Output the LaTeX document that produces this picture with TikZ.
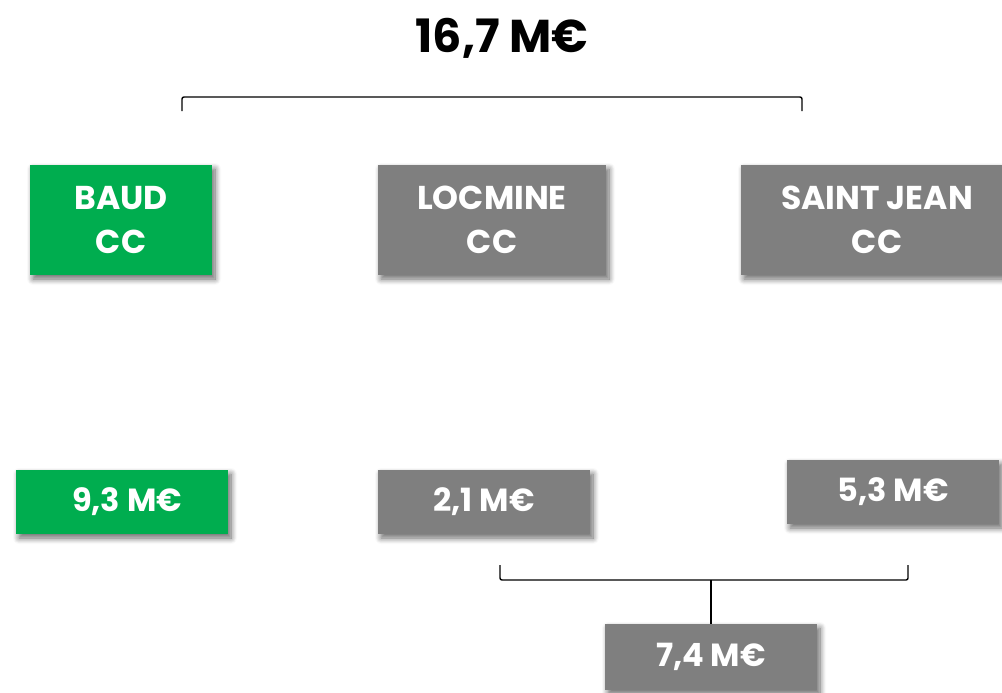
\documentclass[tikz,border=0pt]{standalone}
\usepackage{fontspec}
\setmainfont{Poppins}
\usepackage{xcolor}
\usetikzlibrary{positioning, shadows.blur}

\definecolor{ccgreen}{HTML}{00AD4F}
\definecolor{ccgray}{HTML}{7F7F7F}

\begin{document}
\begin{tikzpicture}[x=1pt, y=-1pt,
    box/.style={fill=#1, text=white, align=center, inner sep=0pt,
        blur shadow={shadow xshift=3pt, shadow yshift=-4pt, shadow blur radius=6pt, shadow blur steps=8, shadow opacity=60}},
    cc/.style={box=#1, minimum height=110pt, font=\bfseries\fontsize{33}{44}\selectfont},
    sum/.style={box=#1, minimum width=212pt, minimum height=64pt, font=\bfseries\fontsize{32}{38}\selectfont},
    brace/.style={line width=1.4pt, rounded corners=2pt}]
    \useasboundingbox (0,0) rectangle (1002,693);
    \clip (0,0) rectangle (1002,693);

    \node[font=\bfseries\fontsize{46}{54}\selectfont] (total) at (502,38) {16,7 M€};

    \node[cc=ccgreen, minimum width=182pt] (baud) at (121,220) {BAUD\\CC};
    \node[cc=ccgray, minimum width=228pt] (locmine) at (492,220) {LOCMINE\\CC};
    \node[cc=ccgray, minimum width=272pt] (stjean) at (877,220) {SAINT JEAN\\CC};

    \node[sum=ccgreen] (vbaud) at (122,502) {\hspace{10pt}9,3 M€};
    \node[sum=ccgray] (vlocmine) at (484,502) {2,1 M€};
    \node[sum=ccgray] (vstjean) at (893,492) {5,3 M€};
    \node[sum=ccgray, minimum height=66pt] (vgroup) at (711,657) {7,4 M€};

    % brackets
    \coordinate (tl) at (182,111);
    \coordinate (tr) at (802,111);
    \draw[brace] (tl) -- (182,97) -- (802,97) -- (tr);
    \coordinate (bl) at (500,565);
    \coordinate (br) at (908,565);
    \coordinate (bm) at (711,580);
    \draw[brace] (bl) -- (500,580) -- (908,580) -- (br);
    \draw[line width=1.4pt] (bm) -- (vgroup.north);
\end{tikzpicture}
\end{document}
